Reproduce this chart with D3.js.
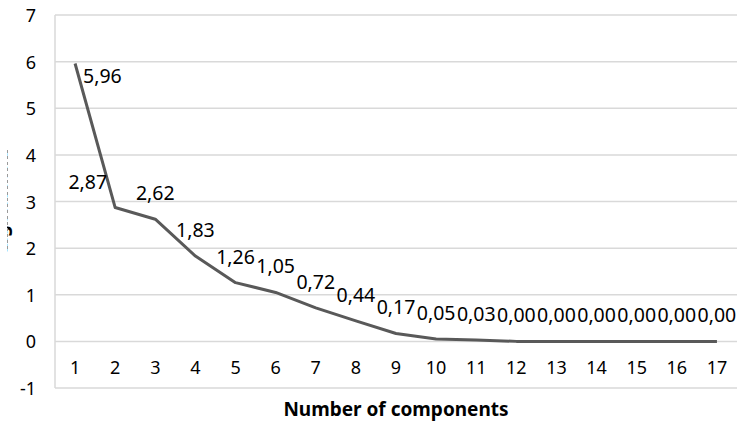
<!DOCTYPE html>
<html>
<head>
<meta charset="utf-8">
<script src="https://cdn.jsdelivr.net/npm/d3@7"></script>
<style>
  body { margin: 0; background: #fff; }
  svg { display: block; font-family: "Noto Sans", sans-serif; }
</style>
</head>
<body>
<svg id="chart" width="738" height="422"></svg>
<script>
// eigenvalues per component (scree plot)
var components = d3.range(1, 18);
var eigenvalues = [5.96, 2.87, 2.62, 1.83, 1.26, 1.05, 0.72, 0.44, 0.17, 0.05, 0.03, 0.00, 0.00, 0.00, 0.00, 0.00, 0.00];
var yTicks = [-1, 0, 1, 2, 3, 4, 5, 6, 7];

var W = 738, H = 422;
var plotL = 55, plotR = 737, plotT = 15, plotB = 388; //plot box

var svg = d3.select("#chart");

var x = d3.scaleBand().domain(components).range([plotL, plotR]);
var y = d3.scaleLinear().domain([-1, 7]).range([plotB, plotT]);

var fmt = function(v) { return v.toFixed(2).replace(".", ","); };

//gridlines
svg.append("g").selectAll("line").data(yTicks).enter().append("line")
    .attr("x1", plotL).attr("x2", plotR)
    .attr("y1", d => y(d)).attr("y2", d => y(d))
    .attr("stroke", "#d9d9d9").attr("stroke-width", 1.5);

//left border of plot
svg.append("line")
    .attr("x1", plotL).attr("x2", plotL)
    .attr("y1", y(7)).attr("y2", y(-1))
    .attr("stroke", "#d9d9d9").attr("stroke-width", 1.5);

//y tick labels
svg.append("g").selectAll("text").data(yTicks).enter().append("text")
    .attr("x", 36).attr("y", d => y(d) + 7)
    .attr("text-anchor", "end")
    .attr("font-size", 18).attr("fill", "#000")
    .text(d => d);

//x tick labels sit between 0 and -1
svg.append("g").selectAll("text").data(components).enter().append("text")
    .attr("x", d => x(d) + x.bandwidth() / 2).attr("y", y(0) + 33)
    .attr("text-anchor", "middle")
    .attr("font-size", 18).attr("fill", "#000")
    .text(d => d);

var pts = components.map((c, i) => [x(c) + x.bandwidth() / 2, y(eigenvalues[i])]);

svg.append("path")
    .attr("d", d3.line()(pts))
    .attr("fill", "none")
    .attr("stroke", "#595959").attr("stroke-width", 3)
    .attr("stroke-linejoin", "round");

//data labels (first two moved by hand like in the original)
svg.append("g").selectAll("text").data(eigenvalues).enter().append("text")
    .attr("x", (d, i) => i == 0 ? pts[i][0] + 8 : i == 1 ? pts[i][0] - 8 : pts[i][0])
    .attr("y", (d, i) => i == 0 ? pts[i][1] + 20 : pts[i][1] - 19)
    .attr("text-anchor", (d, i) => i == 0 ? "start" : i == 1 ? "end" : "middle")
    .attr("font-size", 19.5).attr("fill", "#000")
    .text(d => fmt(d));

//axis title
svg.append("text")
    .attr("x", (plotL + plotR) / 2).attr("y", 416)
    .attr("text-anchor", "middle")
    .attr("font-size", 19).attr("font-weight", "bold").attr("fill", "#000")
    .text("Number of components");

//y title, mostly off the page (only the descender peeks out)
svg.append("clipPath").attr("id", "yclip")
    .append("rect").attr("x", 7).attr("y", 0).attr("width", 20).attr("height", H);
svg.append("g").attr("clip-path", "url(#yclip)")
  .append("text")
    .attr("transform", "translate(7," + ((plotT + plotB) / 2) + ") rotate(-90)")
    .attr("text-anchor", "middle")
    .attr("font-size", 19).attr("font-weight", "bold").attr("fill", "#000")
    .text("Eigenvalue");
svg.append("line")
    .attr("x1", 7.5).attr("x2", 7.5).attr("y1", 150).attr("y2", 252)
    .attr("stroke", "#9a9a9a").attr("stroke-width", 1)
    .attr("stroke-dasharray", "3,3");
</script>
</body>
</html>
